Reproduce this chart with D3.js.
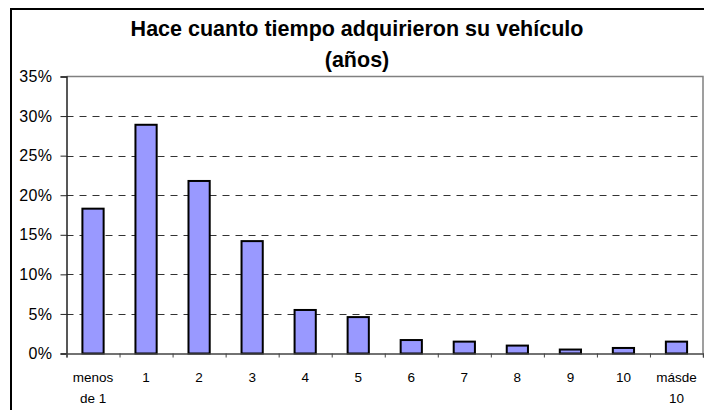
<!DOCTYPE html>
<html>
<head>
<meta charset="utf-8">
<script src="https://cdn.jsdelivr.net/npm/d3@7"></script>
<style>
  body { margin: 0; background: #fff; }
  text { font-family: Arial, "Liberation Sans", sans-serif; fill: #000; }
</style>
</head>
<body>
<div id="chart"></div>
<script>
// chart data
const categories = ["menos de 1", "1", "2", "3", "4", "5", "6", "7", "8", "9", "10", "más de 10"]
const labelLines = [["menos", "de 1"], ["1"], ["2"], ["3"], ["4"], ["5"], ["6"], ["7"], ["8"], ["9"], ["10"], ["másde", "10"]]
const percents = [18.3, 28.9, 21.8, 14.2, 5.5, 4.6, 1.7, 1.5, 1.0, 0.5, 0.7, 1.5]
const yTicks = [0, 5, 10, 15, 20, 25, 30, 35]
const titleLines = ["Hace cuanto tiempo adquirieron su vehículo", "(años)"]

const svgWidth = 704
const svgHeight = 410

const plotLeft = 66.5
const plotRight = 703
const plotTop = 76.5
const plotBottom = 353.5

let svg = d3.select("#chart")
    .append("svg")
    .attr("width", svgWidth)
    .attr("height", svgHeight)

// outer chart border
svg.append("rect")
    .attr("x", 11)
    .attr("y", 9)
    .attr("width", 720)
    .attr("height", 420)
    .attr("fill", "none")
    .attr("stroke", "#000")
    .attr("stroke-width", 2)

// title
svg.selectAll("text.title")
    .data(titleLines)
    .enter()
    .append("text")
    .attr("class", "title")
    .attr("x", 357)
    .attr("y", (d, i) => 36 + i * 31)
    .attr("text-anchor", "middle")
    .attr("font-size", 21.5)
    .attr("font-weight", "bold")
    .text(d => d)

let x = d3.scaleBand()
    .domain(categories)
    .range([plotLeft, plotRight])
    .paddingInner(0.6)
    .paddingOuter(0.3)

let xTickScale = d3.scaleLinear()
    .domain([0, categories.length])
    .range([plotLeft, plotRight])

let y = d3.scaleLinear()
    .domain([0, 35])
    .range([plotBottom, plotTop])

// dashed grid lines
svg.selectAll("line.grid")
    .data(yTicks.filter(d => d > 0 && d < 35))
    .enter()
    .append("line")
    .attr("x1", plotLeft)
    .attr("x2", plotRight)
    .attr("y1", d => Math.round(y(d)) + 0.5)
    .attr("y2", d => Math.round(y(d)) + 0.5)
    .attr("stroke", "#333")
    .attr("stroke-dasharray", "7,6")

// plot frame top and right
svg.append("path")
    .attr("d", `M${plotLeft},${plotTop}H${plotRight}V${plotBottom}`)
    .attr("fill", "none")
    .attr("stroke", "#808080")
    .attr("stroke-width", 1.5)

// bars
svg.selectAll("rect.bar")
    .data(percents)
    .enter()
    .append("rect")
    .attr("class", "bar")
    .attr("x", (d, i) => x(categories[i]))
    .attr("y", d => y(d))
    .attr("width", x.bandwidth())
    .attr("height", d => plotBottom - y(d))
    .attr("fill", "#9999FF")
    .attr("stroke", "#000")
    .attr("stroke-width", 2)

// y axis
let yAxis = d3.axisLeft(y)
    .tickValues(yTicks)
    .tickSize(6)
    .tickFormat(d => d + "%")

let yG = svg.append("g")
    .attr("transform", `translate(${plotLeft},0)`)
    .call(yAxis)
yG.select(".domain").attr("stroke", "#222").attr("stroke-width", 1.5)
yG.selectAll(".tick line").attr("stroke", "#222")
yG.selectAll(".tick text")
    .attr("font-size", 16)
    .attr("font-family", "Arial, 'Liberation Sans', sans-serif")
    .attr("letter-spacing", 0.4)
    .attr("x", -14)
    .attr("fill", "#000")

// x axis line and ticks
let xAxis = d3.axisBottom(xTickScale)
    .tickValues(d3.range(0, categories.length + 1))
    .tickSize(4)
    .tickFormat("")

let xG = svg.append("g")
    .attr("transform", `translate(0,${plotBottom})`)
    .call(xAxis)
xG.select(".domain").attr("stroke", "#444").attr("stroke-width", 1.5)
xG.selectAll(".tick line").attr("stroke", "#444")

// category labels
let labels = svg.selectAll("text.cat")
    .data(labelLines)
    .enter()
    .append("text")
    .attr("class", "cat")
    .attr("text-anchor", "middle")
    .attr("font-size", 13.5)
    .attr("transform", (d, i) => `translate(${x(categories[i]) + x.bandwidth() / 2},382)`)

labels.selectAll("tspan")
    .data(d => d)
    .enter()
    .append("tspan")
    .attr("x", 0)
    .attr("dy", (d, i) => i === 0 ? 0 : 21)
    .text(d => d)
</script>
</body>
</html>
